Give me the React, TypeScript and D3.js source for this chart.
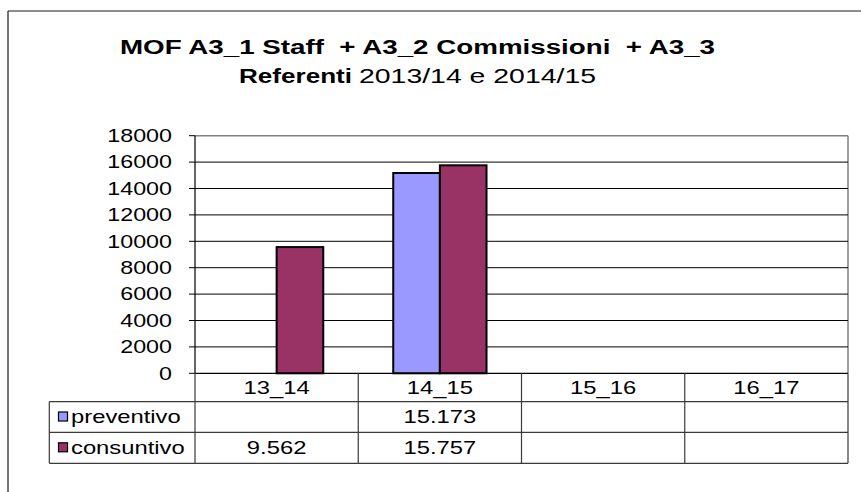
import React from "react";
import * as d3 from "d3";

const categories = ["13_14", "14_15", "15_16", "16_17"];
const seriesNames = ["preventivo", "consuntivo"];
const preventivo: (number | null)[] = [null, 15173, null, null];
const consuntivo: (number | null)[] = [9562, 15757, null, null];
const seriesColors = ["#9999FF", "#993366"];
const yTicks = [0, 2000, 4000, 6000, 8000, 10000, 12000, 14000, 16000, 18000];
const titleLine1 = "MOF A3_1 Staff  + A3_2 Commissioni  + A3_3";
const titleLine2Bold = "Referenti";
const titleLine2Rest = "2013/14 e 2014/15";

const W = 861;
const H = 492;
const plotLeft = 195;
const plotRight = 848;
const plotTop = 135.7;
const plotBottom = 373.3;
const rowH = [28.4, 30.6, 31];
const legendLeft = 49.3;
const FONT = "'Liberation Sans', Arial, sans-serif";
const SX = 1.36;

const itFmt = d3.formatLocale({ decimal: ",", thousands: ".", grouping: [3], currency: ["€", ""] }).format(",d");

function SText(props: { x: number; y: number; anchor?: string; sx?: number; size?: number; weight?: string; children: React.ReactNode }) {
  const { x, y, anchor = "start", sx = SX, size = 17.5, weight = "normal", children } = props;
  return (
    <text
      transform={`translate(${x},${y}) scale(${sx},1)`}
      textAnchor={anchor as any}
      fontFamily={FONT}
      fontSize={size}
      fontWeight={weight}
      fill="#000"
    >
      {children}
    </text>
  );
}

export default function App() {
  const series = [preventivo, consuntivo];
  const x0 = d3.scaleBand<string>().domain(categories).range([plotLeft, plotRight]).paddingInner(0).paddingOuter(0);
  const bw = x0.bandwidth();
  const barW = bw / (seriesNames.length + 1.5);
  const gap = bw - barW * seriesNames.length;
  const x1 = d3.scaleBand<string>().domain(seriesNames).range([gap / 2, bw - gap / 2]);
  const y = d3.scaleLinear().domain([0, 18000]).range([plotBottom, plotTop]);

  const rowTops = [plotBottom, plotBottom + rowH[0], plotBottom + rowH[0] + rowH[1]];
  const tableBottom = rowTops[2] + rowH[2];
  const tableColor = "#3a3a3a";

  return (
    <svg width={W} height={H} style={{ position: "absolute", left: 0, top: 0, background: "#fff" }}>
      <rect x={0} y={0} width={W} height={H} fill="#fff" />
      {/* outer chart border */}
      <line x1={8} y1={11} x2={W} y2={11} stroke="#1a1a1a" strokeWidth={1.2} />
      <line x1={8} y1={11} x2={8} y2={H} stroke="#1a1a1a" strokeWidth={1.2} />

      {/* title */}
      <text x={120} y={54} fontFamily={FONT} fontSize={19.5} fontWeight="bold" textLength={595} lengthAdjust="spacingAndGlyphs" style={{ whiteSpace: "pre" }}>
        {titleLine1}
      </text>
      <text x={239} y={83} fontFamily={FONT} fontSize={19.5} fontWeight="bold" textLength={113} lengthAdjust="spacingAndGlyphs">
        {titleLine2Bold}
      </text>
      <text x={359} y={83} fontFamily={FONT} fontSize={19.5} textLength={237} lengthAdjust="spacingAndGlyphs">
        {titleLine2Rest}
      </text>

      {/* plot area border (grey) */}
      <line x1={plotLeft} y1={plotTop} x2={plotRight} y2={plotTop} stroke="#808080" strokeWidth={1.5} />
      <line x1={plotRight} y1={plotTop} x2={plotRight} y2={plotBottom} stroke="#808080" strokeWidth={1.5} />

      {/* gridlines */}
      {yTicks.filter((t) => t > 0 && t < 18000).map((t) => (
        <line key={"g" + t} x1={plotLeft} x2={plotRight} y1={y(t)} y2={y(t)} stroke="#000" strokeWidth={1} />
      ))}

      {/* bars */}
      {categories.map((c, i) =>
        series.map((s, si) => {
          const v = s[i];
          if (v == null) return null;
          const bx = (x0(c) as number) + (x1(seriesNames[si]) as number);
          return (
            <rect
              key={c + si}
              x={bx}
              y={y(v)}
              width={x1.bandwidth()}
              height={y(0) - y(v)}
              fill={seriesColors[si]}
              stroke="#000"
              strokeWidth={2}
            />
          );
        })
      )}

      {/* y axis */}
      <line x1={plotLeft} y1={plotTop} x2={plotLeft} y2={plotBottom} stroke="#000" strokeWidth={1.2} />
      {yTicks.map((t) => (
        <g key={"t" + t}>
          <line x1={plotLeft - 6} x2={plotLeft} y1={y(t)} y2={y(t)} stroke="#000" strokeWidth={1} />
          <SText x={172} y={y(t) + 6.3} anchor="end" sx={1.33}>
            {String(t)}
          </SText>
        </g>
      ))}

      {/* data table */}
      <line x1={plotLeft} x2={plotRight} y1={plotBottom} y2={plotBottom} stroke="#000" strokeWidth={1.2} />
      {[rowTops[1], rowTops[2], tableBottom].map((ry, i) => (
        <line key={"r" + i} x1={legendLeft} x2={plotRight} y1={ry} y2={ry} stroke={tableColor} strokeWidth={1.2} />
      ))}
      <line x1={legendLeft} x2={legendLeft} y1={rowTops[1]} y2={tableBottom} stroke={tableColor} strokeWidth={1.2} />
      {categories.map((c) => (
        <line key={"v" + c} x1={x0(c) as number} x2={x0(c) as number} y1={plotBottom} y2={tableBottom} stroke={tableColor} strokeWidth={1.2} />
      ))}
      <line x1={plotRight} x2={plotRight} y1={plotBottom} y2={tableBottom} stroke={tableColor} strokeWidth={1.2} />

      {categories.map((c) => (
        <SText key={"h" + c} x={(x0(c) as number) + bw / 2} y={rowTops[0] + rowH[0] / 2 + 6.3} anchor="middle">
          {c}
        </SText>
      ))}

      {seriesNames.map((name, si) => {
        const top = rowTops[si + 1];
        const cy = top + rowH[si + 1] / 2;
        return (
          <g key={name}>
            <rect x={58.5} y={cy - 5} width={9} height={9} fill={seriesColors[si]} stroke="#000" strokeWidth={1.2} />
            <SText x={71} y={cy + 6.3}>
              {name}
            </SText>
            {categories.map((c, i) => {
              const v = series[si][i];
              if (v == null) return null;
              return (
                <SText key={c} x={(x0(c) as number) + bw / 2} y={cy + 6.3} anchor="middle">
                  {itFmt(v)}
                </SText>
              );
            })}
          </g>
        );
      })}
    </svg>
  );
}
